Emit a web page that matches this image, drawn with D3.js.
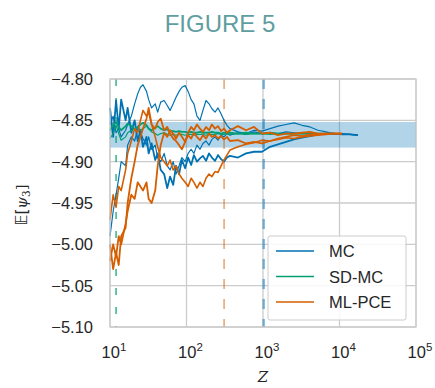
<!DOCTYPE html>
<html>
<head>
<meta charset="utf-8">
<script src="https://cdn.jsdelivr.net/npm/d3@7"></script>
<style>
  body { margin: 0; background: #fff; }
  svg { display: block; }
</style>
</head>
<body>
<svg id="chart" width="435" height="388"></svg>
<script>
// sample sizes Z shared by all runs
const zValues = [10, 11, 12, 13, 14, 16, 17, 19, 21, 23, 25, 27, 30, 32, 35, 39, 42, 46, 51, 56,
  61, 67, 73, 80, 87, 96, 105, 115, 125, 137, 150, 164, 180, 197, 215, 236, 258, 283, 309, 338,
  370, 471, 600, 763, 970, 1234, 1571, 2000, 2542, 3235, 4116, 5236, 6661, 8475, 10781, 13718, 17451];

// MC runs
const mcRun1 = [-4.855, -4.845, -4.865, -4.86, -4.87, -4.862, -4.855, -4.845, -4.83, -4.818,
  -4.81, -4.807, -4.815, -4.825, -4.835, -4.83, -4.84, -4.828, -4.826, -4.832,
  -4.838, -4.83, -4.822, -4.815, -4.81, -4.808, -4.815, -4.825, -4.83, -4.845,
  -4.85, -4.838, -4.826, -4.83, -4.836, -4.84, -4.835, -4.842, -4.85, -4.856,
  -4.86, -4.864, -4.866, -4.862, -4.863, -4.86, -4.857, -4.855, -4.853, -4.856,
  -4.858, -4.862, -4.864, -4.866, -4.866, -4.867, -4.868];
const mcRun2 = [-4.835, -4.87, -4.826, -4.86, -4.825, -4.85, -4.835, -4.865, -4.85, -4.875,
  -4.862, -4.882, -4.87, -4.89, -4.878, -4.898, -4.89, -4.91, -4.915, -4.932,
  -4.918, -4.928, -4.905, -4.915, -4.898, -4.908, -4.895, -4.904, -4.892, -4.9,
  -4.896, -4.893, -4.899, -4.89, -4.895, -4.899, -4.892, -4.897, -4.9, -4.895,
  -4.893, -4.895, -4.89, -4.888, -4.888, -4.882, -4.879, -4.876, -4.873, -4.871,
  -4.869, -4.867, -4.866, -4.866, -4.867, -4.867, -4.868];
const mcRun3 = [-4.99, -4.96, -4.94, -4.92, -4.9, -4.905, -4.88, -4.87, -4.875, -4.86,
  -4.865, -4.872, -4.88, -4.87, -4.885, -4.88, -4.895, -4.9, -4.89, -4.905,
  -4.91, -4.9, -4.915, -4.905, -4.895, -4.9, -4.89, -4.885, -4.89, -4.88,
  -4.885, -4.878, -4.875, -4.88, -4.873, -4.87, -4.874, -4.868, -4.87, -4.866,
  -4.868, -4.865, -4.867, -4.864, -4.866, -4.865, -4.866, -4.864, -4.865, -4.866,
  -4.865, -4.866, -4.866, -4.867, -4.867, -4.867, -4.868];

// SD-MC runs
const sdmcRun1 = [-4.862, -4.856, -4.852, -4.858, -4.862, -4.857, -4.854, -4.857, -4.861, -4.858,
  -4.855, -4.853, -4.856, -4.86, -4.862, -4.859, -4.857, -4.86, -4.862, -4.861,
  -4.863, -4.863, -4.864, -4.863, -4.864, -4.864, -4.865, -4.864, -4.865, -4.865,
  -4.864, -4.865, -4.865, -4.865, -4.864, -4.865, -4.865, -4.866, -4.865, -4.865,
  -4.865, -4.866, -4.865, -4.866, -4.866, -4.865, -4.866, -4.866, -4.866, -4.866,
  -4.866, -4.866, -4.866, -4.866];
const sdmcRun2 = [-4.872, -4.866, -4.856, -4.866, -4.874, -4.87, -4.865, -4.862, -4.86, -4.858,
  -4.862, -4.86, -4.857, -4.86, -4.864, -4.866, -4.868, -4.866, -4.865, -4.867,
  -4.868, -4.867, -4.868, -4.867, -4.867, -4.868, -4.867, -4.867, -4.868, -4.867,
  -4.867, -4.867, -4.868, -4.867, -4.867, -4.867, -4.866, -4.867, -4.867, -4.866,
  -4.867, -4.866, -4.867, -4.866, -4.866, -4.867, -4.866, -4.866, -4.866, -4.866,
  -4.866, -4.866, -4.866, -4.866];

// ML-PCE runs
const mlpceRun1 = [-4.97, -4.94, -4.955, -4.93, -4.935, -4.91, -4.89, -4.875, -4.86, -4.865,
  -4.85, -4.838, -4.845, -4.84, -4.855, -4.87, -4.882, -4.895, -4.9, -4.905,
  -4.898, -4.91, -4.905, -4.915, -4.92, -4.925, -4.93, -4.92, -4.925, -4.932,
  -4.925, -4.93, -4.92, -4.915, -4.918, -4.912, -4.913, -4.905, -4.898, -4.892,
  -4.886, -4.882, -4.879, -4.877, -4.874, -4.875, -4.873, -4.871, -4.872, -4.87,
  -4.869, -4.868, -4.867, -4.866, -4.866];
const mlpceRun2 = [-5.02, -5.0, -5.015, -4.99, -5.0, -4.975, -4.96, -4.94, -4.945, -4.925,
  -4.93, -4.935, -4.925, -4.945, -4.95, -4.935, -4.905, -4.88, -4.865, -4.87,
  -4.862, -4.866, -4.872, -4.865, -4.87, -4.876, -4.868, -4.872, -4.865, -4.87,
  -4.874, -4.868, -4.872, -4.866, -4.87, -4.868, -4.872, -4.869, -4.873, -4.87,
  -4.875, -4.874, -4.878, -4.876, -4.878, -4.875, -4.872, -4.87, -4.868, -4.869,
  -4.867, -4.867, -4.866, -4.866, -4.866];
const mlpceRun3 = [-5.0, -5.03, -5.01, -5.025, -4.99, -4.98, -4.95, -4.92, -4.9, -4.88,
  -4.87, -4.86, -4.848, -4.835, -4.855, -4.86, -4.852, -4.848, -4.862, -4.858,
  -4.866, -4.872, -4.875, -4.88, -4.885, -4.876, -4.865, -4.858, -4.862, -4.855,
  -4.86, -4.864, -4.858, -4.862, -4.855, -4.86, -4.857, -4.863, -4.86, -4.865,
  -4.862, -4.857, -4.862, -4.858, -4.866, -4.865, -4.868, -4.866, -4.866, -4.865,
  -4.864, -4.866, -4.866, -4.866, -4.866];

// reference band and sample-size markers
const bandLimits = [-4.883, -4.852];
const markerZ = [12, 310, 1020];

const seriesNames = ['MC', 'SD-MC', 'ML-PCE'];
const seriesColors = ['#0072B2', '#009E73', '#D55E00'];
const xTickExps = [1, 2, 3, 4, 5];
const yTicks = [-4.80, -4.85, -4.90, -4.95, -5.00, -5.05, -5.10];

const runs = [
  { key: 0, vals: mcRun1, w: 1.2 }, { key: 0, vals: mcRun2, w: 1.8 }, { key: 0, vals: mcRun3, w: 1.2 },
  { key: 1, vals: sdmcRun1, w: 1.8 }, { key: 1, vals: sdmcRun2, w: 1.2 },
  { key: 2, vals: mlpceRun1, w: 1.6 }, { key: 2, vals: mlpceRun2, w: 1.8 }, { key: 2, vals: mlpceRun3, w: 1.8 }
];

const plotLeft = 110, plotRight = 416, plotTop = 79, plotBottom = 327;
const svg = d3.select('#chart');
const x = d3.scaleLog().domain([10, 1e5]).range([plotLeft, plotRight]);
const y = d3.scaleLinear().domain([-5.10, -4.80]).range([plotBottom, plotTop]);
const textColor = '#262626';
const font = '"Liberation Sans", Arial, sans-serif';

svg.append('text')
  .attr('x', 220).attr('y', 32)
  .attr('text-anchor', 'middle')
  .attr('font-family', font).attr('font-size', 24)
  .attr('fill', '#5F9EA0')
  .text('FIGURE 5');

// grid
const grid = svg.append('g');
grid.selectAll('.vg').data(xTickExps).enter().append('line')
  .attr('x1', d => x(Math.pow(10, d))).attr('x2', d => x(Math.pow(10, d)))
  .attr('y1', plotTop).attr('y2', plotBottom)
  .attr('stroke', '#cccccc').attr('stroke-width', 1.3);
grid.selectAll('.hg').data(yTicks).enter().append('line')
  .attr('x1', plotLeft).attr('x2', plotRight)
  .attr('y1', d => y(d)).attr('y2', d => y(d))
  .attr('stroke', '#cccccc').attr('stroke-width', 1.3);

// band
svg.append('rect')
  .attr('x', plotLeft).attr('width', plotRight - plotLeft)
  .attr('y', y(bandLimits[1])).attr('height', y(bandLimits[0]) - y(bandLimits[1]))
  .attr('fill', '#0072B2').attr('fill-opacity', 0.3);

// vertical markers
const markerStyle = [
  { c: seriesColors[1], op: 1, w: 1.2, dash: '7,12' },
  { c: seriesColors[2], op: 0.55, w: 1.6, dash: '10,10' },
  { c: seriesColors[0], op: 0.5, w: 2.5, dash: '10,10' }
];
svg.selectAll('.marker').data(markerZ).enter().append('line')
  .attr('x1', d => x(d)).attr('x2', d => x(d))
  .attr('y1', plotTop).attr('y2', plotBottom)
  .attr('stroke', (d, i) => markerStyle[i].c)
  .attr('stroke-opacity', (d, i) => markerStyle[i].op)
  .attr('stroke-width', (d, i) => markerStyle[i].w)
  .attr('stroke-dasharray', (d, i) => markerStyle[i].dash);

// runs
const line = d3.line()
  .x((d, i) => x(zValues[i]))
  .y(d => y(d));
svg.selectAll('.run').data(runs).enter().append('path')
  .attr('d', d => line(d.vals))
  .attr('fill', 'none')
  .attr('stroke', d => seriesColors[d.key])
  .attr('stroke-width', d => d.w)
  .attr('stroke-linejoin', 'round');

// frame
svg.append('rect')
  .attr('x', plotLeft).attr('y', plotTop)
  .attr('width', plotRight - plotLeft).attr('height', plotBottom - plotTop)
  .attr('fill', 'none').attr('stroke', '#cccccc').attr('stroke-width', 1.3);

// y tick labels
svg.selectAll('.yl').data(yTicks).enter().append('text')
  .attr('x', 93).attr('y', d => y(d) + 6)
  .attr('text-anchor', 'end')
  .attr('font-family', font).attr('font-size', 16.5)
  .attr('fill', textColor)
  .text(d => d3.format('.2f')(d).replace('-', '\u2212'));

// x tick labels with superscripts
const xl = svg.selectAll('.xl').data(xTickExps).enter().append('text')
  .attr('x', d => x(Math.pow(10, d)) + 4).attr('y', 358)
  .attr('text-anchor', 'middle')
  .attr('font-family', font).attr('font-size', 16.5)
  .attr('fill', textColor);
xl.append('tspan').text('10');
xl.append('tspan').attr('dy', -7).attr('font-size', 11.5).text(d => d);

svg.append('text')
  .attr('x', 263).attr('y', 382)
  .attr('text-anchor', 'middle')
  .attr('font-family', '"DejaVu Serif", serif').attr('font-style', 'italic')
  .attr('font-size', 15).attr('fill', textColor)
  .text('Z');

const yl = svg.append('text')
  .attr('transform', 'translate(27,205) rotate(-90)')
  .attr('text-anchor', 'middle')
  .attr('font-family', '"DejaVu Serif", serif')
  .attr('font-size', 15).attr('fill', textColor);
yl.append('tspan').attr('font-family', '"DejaVu Sans", sans-serif').text('\u{1D53C}[');
yl.append('tspan').attr('font-style', 'italic').text('\u03C8');
yl.append('tspan').attr('font-size', 10.5).attr('dy', 3).text('3');
yl.append('tspan').attr('dy', -3).text(']');

// legend
const lg = svg.append('g');
lg.append('rect')
  .attr('x', 268).attr('y', 236).attr('width', 138).attr('height', 84)
  .attr('rx', 2)
  .attr('fill', '#fff').attr('fill-opacity', 0.85)
  .attr('stroke', '#cccccc').attr('stroke-width', 1);
seriesNames.forEach((name, i) => {
  const ly = 251 + i * 25.5;
  lg.append('line')
    .attr('x1', 276).attr('x2', 314).attr('y1', ly).attr('y2', ly)
    .attr('stroke', seriesColors[i]).attr('stroke-width', 1.6);
  lg.append('text')
    .attr('x', 329).attr('y', ly + 6)
    .attr('font-family', font).attr('font-size', 16.5)
    .attr('fill', textColor)
    .text(name);
});
</script>
</body>
</html>
